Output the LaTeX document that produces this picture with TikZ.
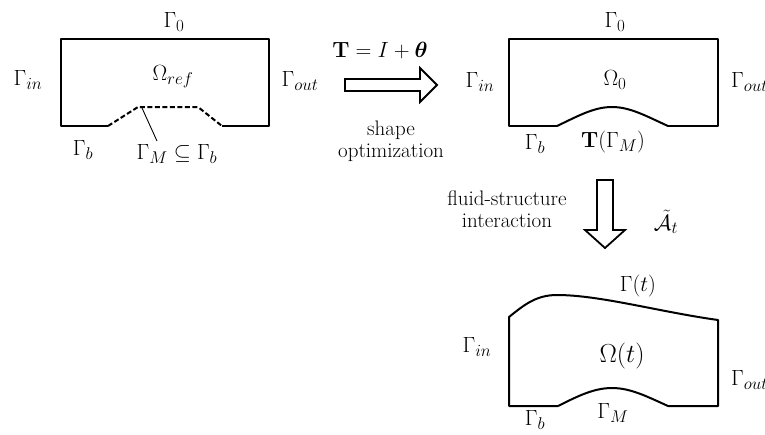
\RequirePackage{fix-cm}
\documentclass[tikz,border=0pt]{standalone}
\usepackage{amsmath,bm}
\DeclareMathSizes{22}{22}{17}{13}
\DeclareMathSizes{26}{26}{20}{15}
\begin{document}
\begin{tikzpicture}[x=1pt,y=-1pt,
  bd/.style={line width=2pt,line join=round},
  lbl/.style={inner sep=0pt,font=\fontsize{22}{26}\selectfont},
  big/.style={inner sep=0pt,font=\fontsize{26}{30}\selectfont},
  txt/.style={inner sep=0pt,align=center,font=\fontsize{21}{22}\selectfont},
  blk/.style={line width=1.8pt,fill=white,line join=miter}]
\useasboundingbox (0,0) rectangle (765,434);
\clip (0,0) rectangle (765,434);
% ---- reference domain ----
\draw[bd] (108,126) -- (61,126) -- (61,39) -- (269,39) -- (269,126) -- (222,126);
\draw[bd,dashed,dash pattern=on 5pt off 2.5pt] (108,126) -- (138,107) -- (198,107) -- (222,126);
\coordinate (gm) at (142,108);
\node[lbl] (g0a) at (174,22) {$\Gamma_0$};
\node[lbl] (gina) at (28,80) {$\Gamma_{in}$};
\node[lbl] (omref) at (173,77) {$\Omega_{ref}$};
\node[lbl] (gouta) at (300,81) {$\Gamma_{out}$};
\node[lbl] (gba) at (83,150) {$\Gamma_b$};
\node[lbl] (gma) at (177,154) {$\Gamma_M\subseteq\Gamma_b$};
\draw[line width=0.9pt] (gm) -- (157,141);
% ---- arrow 1 ----
\node[lbl] (teq) at (380,51) {$\mathbf{T}=I+\bm{\theta}$};
\draw[blk] (345,79) -- (420,79) -- (420,68) -- (437,85) -- (420,102) -- (420,91) -- (345,91) -- cycle;
\node[txt] (shopt) at (391,141) {shape\\optimization};
% ---- initial domain ----
\draw[bd] (557,126) -- (509,126) -- (509,39) -- (718,39) -- (718,126) -- (668,126);
\draw[bd] (557,126) .. controls (578,116) and (594,107) .. (612,107) .. controls (630,107) and (646,116) .. (668,126);
\node[lbl] (g0b) at (615,22) {$\Gamma_0$};
\node[lbl] (om0) at (615,80) {$\Omega_0$};
\node[lbl] (ginb) at (480,82) {$\Gamma_{in}$};
\node[lbl,anchor=west] (goutb) at (731,82) {$\Gamma_{out}$};
\node[lbl] (gbb) at (535,144) {$\Gamma_b$};
\node[lbl] (tgm) at (613,142) {$\mathbf{T}(\Gamma_M)$};
% ---- arrow 2 ----
\draw[blk] (597,180) -- (613,180) -- (613,230) -- (625,230) -- (605,248) -- (585,230) -- (597,230) -- cycle;
\node[txt] (fsi) at (507,209) {fluid-structure\\interaction};
\node[lbl] (at) at (666,222) {$\tilde{\mathcal{A}}_t$};
% ---- current domain ----
\draw[bd] (558,406) -- (509,406) -- (509,317) .. controls (524,305) and (536,295) .. (557,295) .. controls (600,295) and (660,312) .. (718,320) -- (718,406) -- (668,406);
\draw[bd] (558,406) .. controls (578,396) and (594,388) .. (612,388) .. controls (630,388) and (646,396) .. (668,406);
\node[lbl] (gt) at (638,286) {$\Gamma(t)$};
\node[lbl] (ginc) at (477,347) {$\Gamma_{in}$};
\node[big] (omt) at (622,356) {$\Omega(t)$};
\node[lbl,anchor=west] (goutc) at (731,380) {$\Gamma_{out}$};
\node[lbl] (gbc) at (535,420) {$\Gamma_b$};
\node[lbl] (gmc) at (613,413) {$\Gamma_M$};
\end{tikzpicture}
\end{document}
